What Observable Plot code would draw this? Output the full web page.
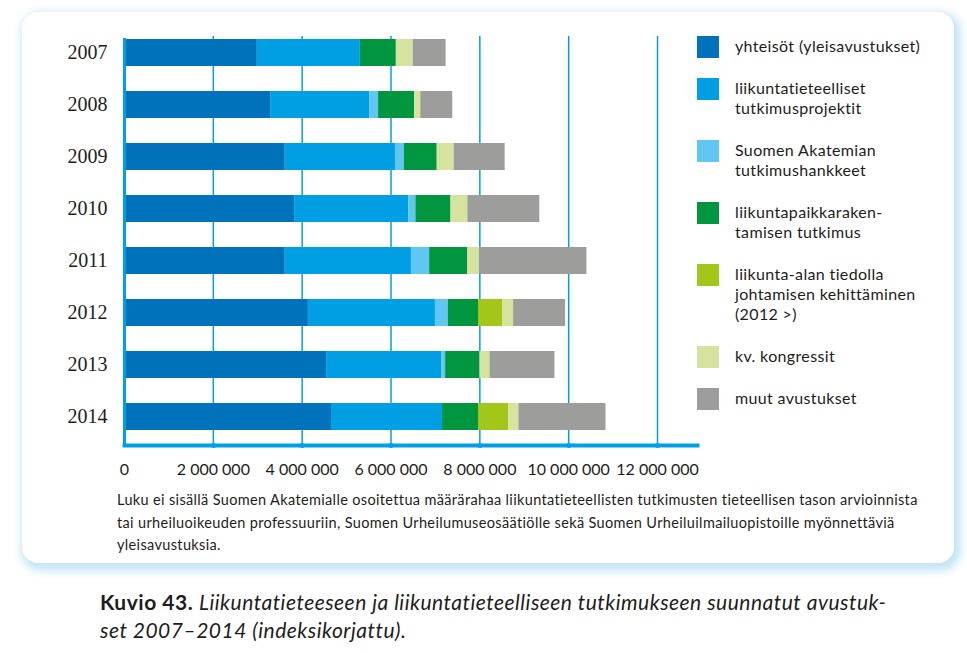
<!DOCTYPE html>
<html>
<head>
<meta charset="utf-8">
<script src="https://cdn.jsdelivr.net/npm/d3@7"></script>
<script src="https://cdn.jsdelivr.net/npm/@observablehq/plot@0.6"></script>
<style>
  html, body { margin: 0; padding: 0; background: #ffffff; }
  body { width: 967px; height: 653px; position: relative; overflow: hidden; font-family: Lato, "Open Sans", sans-serif; color: #1d1d1b; }
  #box { position: absolute; left: 22px; top: 12px; width: 932px; height: 551px; background: #fff; border-radius: 16px; box-shadow: 3px 4px 9px 4px #c4e6f6; }
  #chart { position: absolute; left: 0; top: 0; }
  #legend { position: absolute; left: 697px; top: 36px; width: 250px; font-size: 16px; letter-spacing: 0.35px; line-height: 20px; }
  .item { position: relative; padding-left: 38px; margin-bottom: 22px; }
  .sw { position: absolute; left: 0; top: 0; width: 22px; height: 22px; }
  #note { position: absolute; left: 117px; top: 489px; width: 830px; font-size: 14.5px; letter-spacing: 0.35px; line-height: 22.5px; }
  #caption { position: absolute; left: 100px; top: 588px; width: 850px; font-size: 21px; letter-spacing: 0.5px; line-height: 28px; }
  #caption i { font-style: italic; }
</style>
</head>
<body>
<div id="box"></div>
<div id="chart"></div>
<div id="legend"></div>
<div id="note">Luku ei sisällä Suomen Akatemialle osoitettua määrärahaa liikuntatieteellisten tutkimusten tieteellisen tason arvioinnista<br>tai urheiluoikeuden professuuriin, Suomen Urheilumuseosäätiölle sekä Suomen Urheiluilmailuopistoille myönnettäviä<br>yleisavustuksia.</div>
<div id="caption"><b>Kuvio 43.</b> <i>Liikuntatieteeseen ja liikuntatieteelliseen tutkimukseen suunnatut avustuk-<br>set 2007–2014 (indeksikorjattu).</i></div>
<script>
const years = ["2007", "2008", "2009", "2010", "2011", "2012", "2013", "2014"];
const seriesNames = [
  "yhteisöt (yleisavustukset)",
  "liikuntatieteelliset tutkimusprojektit",
  "Suomen Akatemian tutkimushankkeet",
  "liikuntapaikkarakentamisen tutkimus",
  "liikunta-alan tiedolla johtamisen kehittäminen (2012 >)",
  "kv. kongressit",
  "muut avustukset"
];
const legendLabels = [
  "yhteisöt (yleisavustukset)",
  "liikuntatieteelliset<br>tutkimusprojektit",
  "Suomen Akatemian<br>tutkimushankkeet",
  "liikuntapaikkaraken-<br>tamisen tutkimus",
  "liikunta-alan tiedolla<br>johtamisen kehittäminen<br>(2012 >)",
  "kv. kongressit",
  "muut avustukset"
];
const seriesColors = ["#0072bc", "#009fe3", "#62c6f2", "#009640", "#a3c61a", "#d6e39f", "#9d9d9b"];

const yhteisot      = [2990000, 3290000, 3620000, 3830000, 3620000, 4140000, 4550000, 4660000];
const tutkimusproj  = [2320000, 2230000, 2480000, 2570000, 2840000, 2860000, 2590000, 2500000];
const akatemia      = [0, 200000, 200000, 160000, 410000, 290000, 90000, 0];
const rakentaminen  = [810000, 810000, 740000, 790000, 860000, 680000, 770000, 810000];
const tiedolla      = [0, 0, 0, 0, 0, 540000, 0, 680000];
const kongressit    = [380000, 140000, 380000, 380000, 270000, 250000, 230000, 230000];
const muut          = [740000, 720000, 1150000, 1620000, 2410000, 1170000, 1460000, 1960000];

const xTicks = [0, 2000000, 4000000, 6000000, 8000000, 10000000, 12000000];
const xTickLabels = ["0", "2 000 000", "4 000 000", "6 000 000", "8 000 000", "10 000 000", "12 000 000"];

const seriesValues = [yhteisot, tutkimusproj, akatemia, rakentaminen, tiedolla, kongressit, muut];
const rows = [];
years.forEach((y, i) => {
  seriesNames.forEach((s, j) => {
    rows.push({year: y, series: s, value: seriesValues[j][i]});
  });
});

const axisBlue = "#009fe3";

const chart = Plot.plot({
  width: 700,
  height: 490,
  marginLeft: 124,
  marginRight: 3,
  marginTop: 23,
  marginBottom: 45,
  x: {domain: [0, 12900000], axis: null},
  y: {domain: years, paddingInner: 0.49, paddingOuter: 0.245, axis: null},
  color: {domain: seriesNames, range: seriesColors},
  style: {background: "transparent", overflow: "visible"},
  marks: [
    Plot.ruleX(xTicks.slice(1), {x: d => d, stroke: axisBlue, strokeWidth: 1.5, insetTop: 13}),
    Plot.barX(rows, {x: "value", y: "year", fill: "series"}),
    Plot.ruleX([0], {x: d => d, stroke: axisBlue, strokeWidth: 3, insetTop: 15}),
    Plot.frame({anchor: "bottom", stroke: axisBlue, strokeWidth: 4}),
    Plot.dot(xTicks.slice(1), {x: d => d, frameAnchor: "bottom", r: 2.5, fill: axisBlue, stroke: null}),
    Plot.axisX(xTicks, {
      tickSize: 0, tickPadding: 18,
      tickFormat: d => xTickLabels[xTicks.indexOf(d)],
      fontSize: 16, fontFamily: "Lato, sans-serif", fill: "#1d1d1b", label: null
    }),
    Plot.axisY(years, {
      tickSize: 0, tickPadding: 17,
      fontSize: 20, fontFamily: "'Liberation Serif', serif", fill: "#1d1d1b", label: null
    })
  ]
});
document.getElementById("chart").appendChild(chart);

const legend = document.getElementById("legend");
seriesNames.forEach((s, j) => {
  const it = document.createElement("div");
  it.className = "item";
  it.innerHTML = `<span class="sw" style="background:${seriesColors[j]}"></span>${legendLabels[j]}`;
  legend.appendChild(it);
});
</script>
</body>
</html>
